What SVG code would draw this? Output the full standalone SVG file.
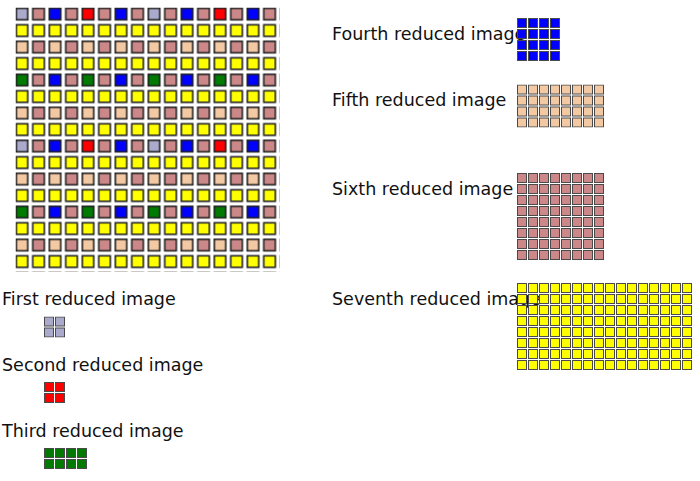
<svg xmlns="http://www.w3.org/2000/svg" width="700" height="481" viewBox="0 0 700 481">
<style>
text{font-family:"DejaVu Sans","Liberation Sans",sans-serif;font-size:17.5px;fill:#111}
.b rect{stroke:#222;stroke-width:1.6}
.s{stroke:#4a4a4a;stroke-width:1}
.c1{fill:#aaaacc}.c2{fill:#ff0000}.c3{fill:#007a00}.c4{fill:#0000ff}.c5{fill:#f2c9a2}.c6{fill:#cc8888}.c7{fill:#ffff00}
</style>
<defs>
<pattern id="adam7" patternUnits="userSpaceOnUse" x="0" y="0" width="132" height="132">
<g class="b">
<rect class="c1" x="0.8" y="0.8" width="11.5" height="11.5"/><rect class="c6" x="17.3" y="0.8" width="11.5" height="11.5"/><rect class="c4" x="33.8" y="0.8" width="11.5" height="11.5"/><rect class="c6" x="50.3" y="0.8" width="11.5" height="11.5"/><rect class="c2" x="66.8" y="0.8" width="11.5" height="11.5"/><rect class="c6" x="83.3" y="0.8" width="11.5" height="11.5"/><rect class="c4" x="99.8" y="0.8" width="11.5" height="11.5"/><rect class="c6" x="116.3" y="0.8" width="11.5" height="11.5"/>
<rect class="c7" x="0.8" y="17.3" width="11.5" height="11.5"/><rect class="c7" x="17.3" y="17.3" width="11.5" height="11.5"/><rect class="c7" x="33.8" y="17.3" width="11.5" height="11.5"/><rect class="c7" x="50.3" y="17.3" width="11.5" height="11.5"/><rect class="c7" x="66.8" y="17.3" width="11.5" height="11.5"/><rect class="c7" x="83.3" y="17.3" width="11.5" height="11.5"/><rect class="c7" x="99.8" y="17.3" width="11.5" height="11.5"/><rect class="c7" x="116.3" y="17.3" width="11.5" height="11.5"/>
<rect class="c5" x="0.8" y="33.8" width="11.5" height="11.5"/><rect class="c6" x="17.3" y="33.8" width="11.5" height="11.5"/><rect class="c5" x="33.8" y="33.8" width="11.5" height="11.5"/><rect class="c6" x="50.3" y="33.8" width="11.5" height="11.5"/><rect class="c5" x="66.8" y="33.8" width="11.5" height="11.5"/><rect class="c6" x="83.3" y="33.8" width="11.5" height="11.5"/><rect class="c5" x="99.8" y="33.8" width="11.5" height="11.5"/><rect class="c6" x="116.3" y="33.8" width="11.5" height="11.5"/>
<rect class="c7" x="0.8" y="50.3" width="11.5" height="11.5"/><rect class="c7" x="17.3" y="50.3" width="11.5" height="11.5"/><rect class="c7" x="33.8" y="50.3" width="11.5" height="11.5"/><rect class="c7" x="50.3" y="50.3" width="11.5" height="11.5"/><rect class="c7" x="66.8" y="50.3" width="11.5" height="11.5"/><rect class="c7" x="83.3" y="50.3" width="11.5" height="11.5"/><rect class="c7" x="99.8" y="50.3" width="11.5" height="11.5"/><rect class="c7" x="116.3" y="50.3" width="11.5" height="11.5"/>
<rect class="c3" x="0.8" y="66.8" width="11.5" height="11.5"/><rect class="c6" x="17.3" y="66.8" width="11.5" height="11.5"/><rect class="c4" x="33.8" y="66.8" width="11.5" height="11.5"/><rect class="c6" x="50.3" y="66.8" width="11.5" height="11.5"/><rect class="c3" x="66.8" y="66.8" width="11.5" height="11.5"/><rect class="c6" x="83.3" y="66.8" width="11.5" height="11.5"/><rect class="c4" x="99.8" y="66.8" width="11.5" height="11.5"/><rect class="c6" x="116.3" y="66.8" width="11.5" height="11.5"/>
<rect class="c7" x="0.8" y="83.3" width="11.5" height="11.5"/><rect class="c7" x="17.3" y="83.3" width="11.5" height="11.5"/><rect class="c7" x="33.8" y="83.3" width="11.5" height="11.5"/><rect class="c7" x="50.3" y="83.3" width="11.5" height="11.5"/><rect class="c7" x="66.8" y="83.3" width="11.5" height="11.5"/><rect class="c7" x="83.3" y="83.3" width="11.5" height="11.5"/><rect class="c7" x="99.8" y="83.3" width="11.5" height="11.5"/><rect class="c7" x="116.3" y="83.3" width="11.5" height="11.5"/>
<rect class="c5" x="0.8" y="99.8" width="11.5" height="11.5"/><rect class="c6" x="17.3" y="99.8" width="11.5" height="11.5"/><rect class="c5" x="33.8" y="99.8" width="11.5" height="11.5"/><rect class="c6" x="50.3" y="99.8" width="11.5" height="11.5"/><rect class="c5" x="66.8" y="99.8" width="11.5" height="11.5"/><rect class="c6" x="83.3" y="99.8" width="11.5" height="11.5"/><rect class="c5" x="99.8" y="99.8" width="11.5" height="11.5"/><rect class="c6" x="116.3" y="99.8" width="11.5" height="11.5"/>
<rect class="c7" x="0.8" y="116.3" width="11.5" height="11.5"/><rect class="c7" x="17.3" y="116.3" width="11.5" height="11.5"/><rect class="c7" x="33.8" y="116.3" width="11.5" height="11.5"/><rect class="c7" x="50.3" y="116.3" width="11.5" height="11.5"/><rect class="c7" x="66.8" y="116.3" width="11.5" height="11.5"/><rect class="c7" x="83.3" y="116.3" width="11.5" height="11.5"/><rect class="c7" x="99.8" y="116.3" width="11.5" height="11.5"/><rect class="c7" x="116.3" y="116.3" width="11.5" height="11.5"/>
</g>
</pattern>
<pattern id="p1" patternUnits="userSpaceOnUse" width="11" height="11"><rect class="c1 s" x="0.5" y="0.5" width="9" height="9"/></pattern>
<pattern id="p2" patternUnits="userSpaceOnUse" width="11" height="11"><rect class="c2 s" x="0.5" y="0.5" width="9" height="9"/></pattern>
<pattern id="p3" patternUnits="userSpaceOnUse" width="11" height="11"><rect class="c3 s" x="0.5" y="0.5" width="9" height="9"/></pattern>
<pattern id="p4" patternUnits="userSpaceOnUse" width="11" height="11"><rect class="c4 s" x="0.5" y="0.5" width="9" height="9"/></pattern>
<pattern id="p5" patternUnits="userSpaceOnUse" width="11" height="11"><rect class="c5 s" x="0.5" y="0.5" width="9" height="9"/></pattern>
<pattern id="p6" patternUnits="userSpaceOnUse" width="11" height="11"><rect class="c6 s" x="0.5" y="0.5" width="9" height="9"/></pattern>
<pattern id="p7" patternUnits="userSpaceOnUse" width="11" height="11"><rect class="c7 s" x="0.5" y="0.5" width="9" height="9"/></pattern>
</defs>
<rect width="700" height="481" fill="#fff"/>
<g id="original-image" transform="translate(15.5,7.5)">
<rect width="264" height="264" fill="url(#adam7)"/>
</g>
<g id="first-reduced">
<text x="2" y="305">First reduced image</text>
<g transform="translate(44,316.5)"><rect width="21" height="21" fill="url(#p1)"/></g>
</g>
<g id="second-reduced">
<text x="2" y="371">Second reduced image</text>
<g transform="translate(44,382)"><rect width="21" height="21" fill="url(#p2)"/></g>
</g>
<g id="third-reduced">
<text x="2" y="437">Third reduced image</text>
<g transform="translate(44,448)"><rect width="43" height="21" fill="url(#p3)"/></g>
</g>
<g id="fourth-reduced">
<text x="332" y="40">Fourth reduced image</text>
<g transform="translate(517,18)"><rect width="43" height="43" fill="url(#p4)"/></g>
</g>
<g id="fifth-reduced">
<text x="332" y="106">Fifth reduced image</text>
<g transform="translate(517,84.5)"><rect width="87" height="43" fill="url(#p5)"/></g>
</g>
<g id="sixth-reduced">
<text x="332" y="195">Sixth reduced image</text>
<g transform="translate(517,173)"><rect width="87" height="87" fill="url(#p6)"/></g>
</g>
<g id="seventh-reduced">
<text x="332" y="305">Seventh reduced image</text>
<g transform="translate(517,283)"><rect width="175" height="87" fill="url(#p7)"/></g>
</g>
<g id="connectors"/>
</svg>
